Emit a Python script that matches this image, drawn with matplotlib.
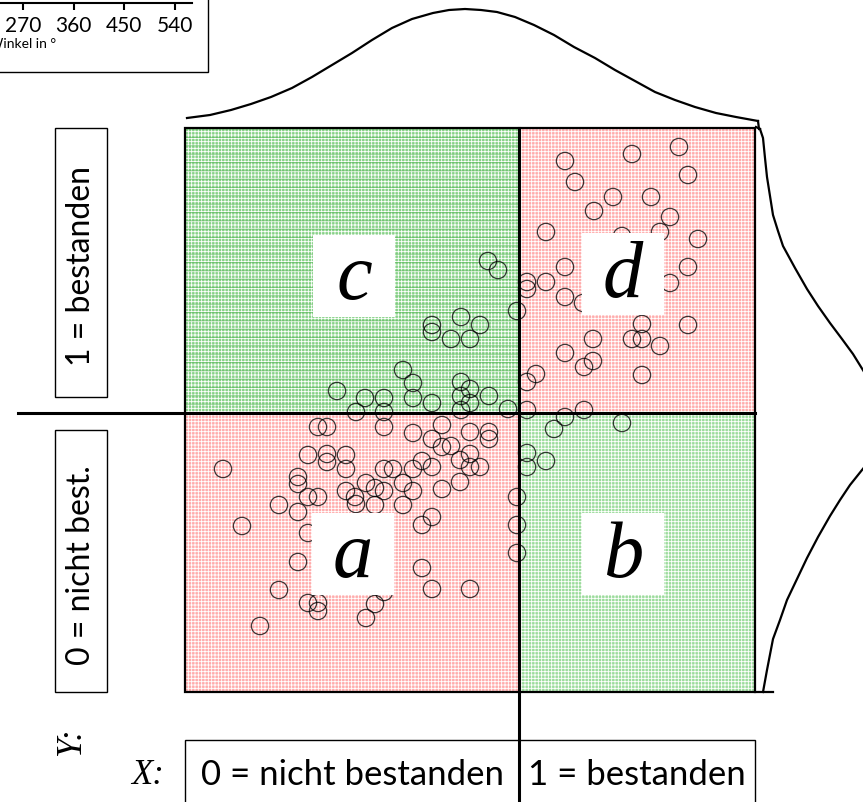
import matplotlib.pyplot as plt
from matplotlib.patches import Rectangle

plt.rcParams["hatch.linewidth"] = 0.6

# scatter of both test results, in drawing units (x to the right, y downward)
score_x = [565, 632, 679, 575, 688, 613, 651, 594, 670, 546, 660, 698, 622, 565, 688,
           527, 546, 527, 670, 565, 583, 517, 642, 688, 593, 632, 642, 660, 565, 593,
           584, 536, 527, 642, 527, 584,
           565, 622, 554, 546, 527, 527, 517, 517, 517,
           488, 498, 480, 432, 432, 461, 451, 470, 403, 413, 461, 470, 337, 365, 384,
           413, 432, 461, 470, 489, 356, 384, 461, 508,
           318, 327, 384, 413, 442, 432, 442, 451, 470, 489, 489, 308, 327, 327, 346,
           346, 223, 298, 298, 384, 393, 413, 422, 432, 460, 470, 470, 480, 366, 375,
           384, 403, 413, 442, 460, 346, 355, 356, 375, 403, 308, 318, 279, 298, 422,
           432, 242, 308, 298, 422, 279, 432, 470, 384, 308, 318, 318, 375, 366, 260]
score_y = [161, 154, 147, 182, 175, 197, 197, 211, 217, 232, 232, 239, 236, 267, 267,
           282, 282, 289, 283, 297, 303, 311, 324, 325, 339, 339, 339, 346, 353, 361,
           367, 374, 382, 375, 410, 410,
           417, 423, 429, 461, 453, 467, 497, 525, 553,
           261, 270, 325, 325, 332, 317, 339, 339, 370, 383, 382, 389, 391, 398, 398,
           398, 403, 396, 403, 396, 412, 412, 410, 409,
           427, 427, 427, 433, 425, 439, 447, 446, 432, 432, 439, 455, 454, 462, 455,
           469, 469, 477, 484, 469, 469, 469, 461, 467, 460, 454, 467, 467, 483, 488,
           491, 483, 491, 489, 482, 491, 497, 504, 505, 505, 497, 497, 505, 512, 525,
           517, 526, 533, 562, 568, 590, 589, 589, 592, 603, 603, 611, 604, 618, 626]

# marginal density of X along the top edge
top_x = [187, 210, 231, 251, 271, 292, 312, 332, 352, 372, 392, 412, 433, 449, 465,
         481, 497, 515, 534, 554, 574, 595, 615, 635, 655, 675, 695, 716, 736, 758]
top_y = [118, 115, 110, 104, 97, 88, 77, 65, 53, 40, 28, 19, 13, 10, 9,
         10, 12, 17, 25, 35, 47, 58, 70, 81, 92, 100, 107, 113, 117, 121]

# marginal density of Y along the right edge
right_x = [760, 763, 765, 767, 770, 773, 778, 783, 795, 807, 818, 830, 842, 853, 866,
           874, 877, 874, 866, 850, 840, 830, 818, 807, 797, 787, 780, 773, 767, 763]
right_y = [129, 138, 158, 177, 196, 215, 231, 246, 268, 289, 306, 323, 339, 354, 375,
           398, 420, 442, 465, 485, 500, 516, 537, 558, 579, 600, 620, 639, 670, 692]

cells = ["c", "d", "a", "b"]
x_labels = ["0 = nicht bestanden", "1 = bestanden"]
y_labels = ["1 = bestanden", "0 = nicht best."]
inset_ticks = [270, 360, 450, 540]

L, R, T, B = 185, 755, 128, 692   # frame of the four-field table
XC, YC = 519, 413                 # cut points

fig = plt.figure(figsize=(8.63, 8.02), dpi=100)
ax = fig.add_axes([0, 0, 1, 1])
ax.set_xlim(0, 863)
ax.set_ylim(802, 0)
ax.axis("off")

red = "#ffacac"
green = "#9cdc9c"
green_dark = "#88d288"
fields = [(L, T, XC - L, YC - T, green_dark),
          (XC, T, R - XC, YC - T, red),
          (L, YC, XC - L, B - YC, red),
          (XC, YC, R - XC, B - YC, green)]
for x0, y0, w, h, col in fields:
    ax.add_patch(Rectangle((x0, y0), w, h, facecolor=col, edgecolor="white",
                           linewidth=0, hatch="+++++", zorder=1))
# darker stripes in the upper left field
ax.add_patch(Rectangle((L, T), XC - L, YC - T, facecolor="none", edgecolor="#4fb24f",
                       linewidth=0, hatch="--", zorder=1.5, alpha=0.7))

ax.add_patch(Rectangle((L, T), R - L, B - T, facecolor="none", edgecolor="black",
                       linewidth=1.6, zorder=2))

ax.scatter(score_x, score_y, s=155, facecolors="none", edgecolors="black",
           linewidths=0.9, alpha=0.75, zorder=3)

# cut lines
ax.plot([XC, XC], [T, 802], color="black", lw=2.2, zorder=4)
ax.plot([18, R], [YC, YC], color="black", lw=2.2, zorder=4)

# marginal curves
ax.plot(top_x, top_y, color="black", lw=1.6, zorder=4)
ax.plot([758, 759], [121, 129], color="black", lw=1.6, zorder=4)
ax.plot(right_x, right_y, color="black", lw=1.6, zorder=4)
ax.plot([756, 760], [127, 129], color="black", lw=1.6, zorder=4)
ax.plot([R, 773], [B, B], color="black", lw=1.6, zorder=4)

# cell letters in white boxes
box_pos = [(313, 235), (582, 233), (312, 513), (582, 513)]
for (bx, by), name in zip(box_pos, cells):
    ax.add_patch(Rectangle((bx, by), 82, 82, facecolor="white", edgecolor="none", zorder=5))
    ax.text(bx + 41, by + 44, name, fontsize=58, family="Liberation Serif",
            style="italic", ha="center", va="center", zorder=6)

# category boxes for Y
for (y0, y1), lab in zip([(T, 397), (430, B)], y_labels):
    ax.add_patch(Rectangle((55, y0), 52, y1 - y0, facecolor="white",
                           edgecolor="black", linewidth=1.0, zorder=5))
    ax.text(81, (y0 + y1) / 2 + 4, lab, rotation=90, fontsize=23, family="Lato",
            ha="center", va="center", zorder=6)
ax.text(72, 742, "Y:", rotation=90, fontsize=25, family="Liberation Serif",
        style="italic", ha="center", va="center")

# category boxes for X
ax.add_patch(Rectangle((L, 740), R - L, 80, facecolor="white", edgecolor="black",
                       linewidth=1.0, zorder=3))
for (x0, x1), lab in zip([(L, XC), (XC, R)], x_labels):
    ax.text((x0 + x1) / 2, 775, lab, fontsize=25, family="Lato",
            ha="center", va="center", zorder=6)
ax.text(148, 776, "X:", fontsize=25, family="Liberation Serif", style="italic",
        ha="center", va="center")

# cropped angle chart in the upper left corner
ax.add_patch(Rectangle((-5, -5), 213, 77, facecolor="white", edgecolor="black",
                       linewidth=1.0, zorder=5))
inset = fig.add_axes([-43 / 863, 1 - 3 / 802, 235 / 863, 0.2])
inset.set_xlim(270 - 66 / 0.563, 270 + 169 / 0.563)
inset.set_xticks(inset_ticks)
inset.tick_params(axis="x", length=5, width=1.5, labelsize=15, pad=4)
for lbl in inset.get_xticklabels():
    lbl.set_family("Lato")
inset.set_yticks([])
for side in ["top", "left", "right"]:
    inset.spines[side].set_visible(False)
inset.spines["bottom"].set_linewidth(1.5)
inset.patch.set_alpha(0)
inset.set_xlabel("Winkel in °", family="Lato", fontsize=10, ha="right", va="top")
inset.xaxis.set_label_coords(56, 38, transform=ax.transData)

fig.savefig("out.png")
